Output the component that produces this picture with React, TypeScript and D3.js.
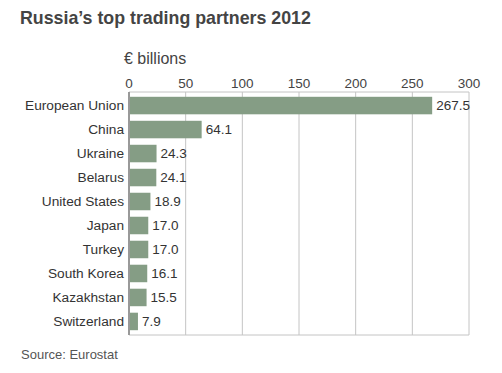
import React from 'react';
import * as d3 from 'd3';

const partners = ['European Union', 'China', 'Ukraine', 'Belarus', 'United States', 'Japan', 'Turkey', 'South Korea', 'Kazakhstan', 'Switzerland'];
const tradeValues = [267.5, 64.1, 24.3, 24.1, 18.9, 17.0, 17.0, 16.1, 15.5, 7.9];
const xTicks = [0, 50, 100, 150, 200, 250, 300];

const W = 502;
const H = 373;
const plot = { left: 129, right: 469, top: 92, bottom: 335 };
const font = 'Arial, "Liberation Sans", sans-serif';

export default function App() {
  const x = d3.scaleLinear().domain([0, 300]).range([plot.left, plot.right]);
  const y = d3.scaleBand<string>()
    .domain(partners)
    .range([plot.top, plot.bottom])
    .paddingInner(0.27)
    .paddingOuter(0.2);

  return (
    <svg width={W} height={H} style={{ position: 'fixed', left: 0, top: 0, background: '#fff' }} fontFamily={font}>
      <text x={20} y={24} fontSize={17.8} fontWeight="bold" fill="#444">Russia’s top trading partners 2012</text>
      <text x={124} y={64} fontSize={16} fill="#444">€ billions</text>

      {/* grid + ticks */}
      {xTicks.map(t => (
        <g key={t}>
          <line x1={x(t)} x2={x(t)} y1={plot.top} y2={plot.bottom} stroke="#c4c4c4" strokeWidth={1} />
          <text x={x(t)} y={88} textAnchor="middle" fontSize={13.5} fill="#444">{t}</text>
        </g>
      ))}
      <line x1={plot.left} x2={plot.right} y1={plot.top} y2={plot.top} stroke="#c4c4c4" />
      <line x1={plot.left} x2={plot.right} y1={plot.bottom} y2={plot.bottom} stroke="#c4c4c4" />

      {partners.map((p, i) => {
        const v = tradeValues[i];
        const yy = y(p) || 0;
        const cy = yy + y.bandwidth() / 2;
        return (
          <g key={p}>
            <rect x={x(0)} y={yy} width={x(v) - x(0)} height={y.bandwidth()} fill="#859d85" />
            <text x={124} y={cy} dy="0.35em" textAnchor="end" fontSize={13.7} fill="#333">{p}</text>
            <text x={x(v) + 4} y={cy} dy="0.35em" fontSize={13.5} fill="#333">{v.toFixed(1)}</text>
          </g>
        );
      })}

      <line x1={plot.left} x2={plot.left} y1={plot.top} y2={plot.bottom} stroke="#999" strokeWidth={2} />

      <text x={21} y={359} fontSize={13} fill="#555">Source: Eurostat</text>
    </svg>
  );
}
